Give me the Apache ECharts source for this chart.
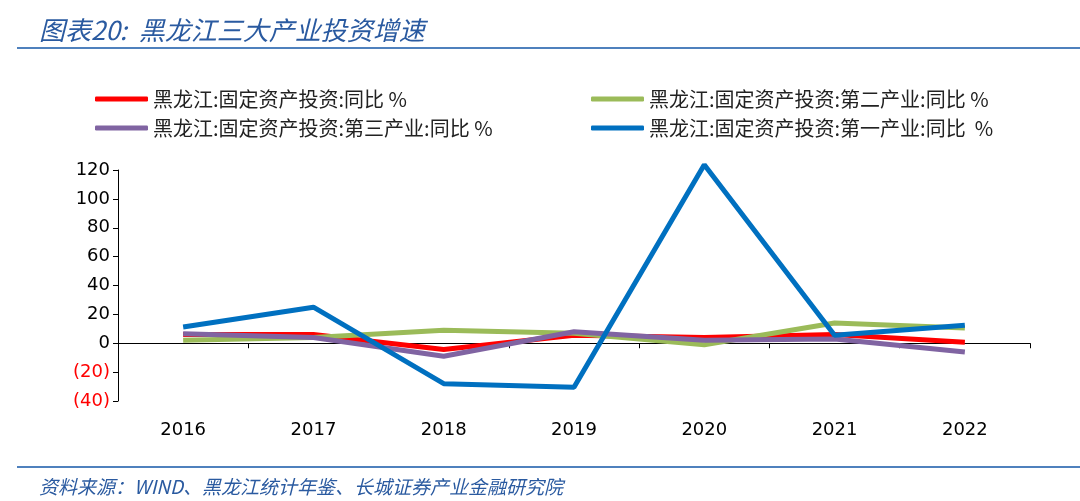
<!DOCTYPE html>
<html>
<head>
<meta charset="utf-8">
<script src="https://cdn.jsdelivr.net/npm/echarts@6/dist/echarts.min.js"></script>
<style>
  html, body { margin: 0; padding: 0; background: #fff; }
  #main { width: 1080px; height: 501px; }
</style>
</head>
<body>
<div id="main"></div>
<script>
// 年份
var years = ['2016', '2017', '2018', '2019', '2020', '2021', '2022'];
// 固定资产投资:同比 %
var totalInv = [6, 6, -4.3, 5.5, 4, 6, 0.7];
// 第二产业:同比 %
var secondInv = [2, 4, 9, 7, -1, 14, 10.6];
// 第三产业:同比 %
var thirdInv = [6.5, 4, -9, 8, 2, 3, -6];
// 第一产业:同比 %
var firstInv = [11.3, 25, -28, -30.5, 123.6, 5.5, 12.5];
var yTicks = [-40, -20, 0, 20, 40, 60, 80, 100, 120];

var names = [
  '黑龙江:固定资产投资:同比 %',
  '黑龙江:固定资产投资:第二产业:同比 %',
  '黑龙江:固定资产投资:第三产业:同比 %',
  '黑龙江:固定资产投资:第一产业:同比  %'
];

var dom = document.getElementById('main');
var myChart = echarts.init(dom);

var numFont = 'Tahoma, "DejaVu Sans", sans-serif';
var cnFont = '"Noto Sans CJK SC", sans-serif';

function mkLine(name, data, color) {
  return {
    name: name,
    type: 'line',
    data: data,
    symbol: 'none',
    clip: false,
    lineStyle: { color: color, width: 5 },
    itemStyle: { color: color },
    z: 3
  };
}

var legendCommon = {
  orient: 'vertical',
  icon: 'roundRect',
  itemWidth: 53,
  itemHeight: 5,
  itemGap: 9,
  textStyle: { fontFamily: cnFont, fontSize: 20, color: '#222' },
  selectedMode: false
};

var option = {
  backgroundColor: '#fff',
  animation: false,
  title: [
    {
      text: '图表20:  黑龙江三大产业投资增速',
      left: 34, top: 12,
      textStyle: { fontFamily: cnFont, fontStyle: 'italic', fontWeight: 'normal', fontSize: 26, color: '#2a5aa0' }
    },
    {
      text: '资料来源：WIND、黑龙江统计年鉴、长城证券产业金融研究院',
      left: 34, top: 472,
      textStyle: { fontFamily: cnFont, fontStyle: 'italic', fontWeight: 'normal', fontSize: 19, color: '#2a5aa0' }
    }
  ],
  graphic: [
    { type: 'line', shape: { x1: 17, y1: 48, x2: 1080, y2: 48 }, style: { stroke: '#4f81bd', lineWidth: 2 } },
    { type: 'line', shape: { x1: 17, y1: 467, x2: 1080, y2: 467 }, style: { stroke: '#4f81bd', lineWidth: 2 } }
  ],
  legend: [
    Object.assign({ left: 90, top: 84, data: [names[0], names[2]] }, legendCommon),
    Object.assign({ left: 586, top: 84, data: [names[1], names[3]] }, legendCommon)
  ],
  grid: { left: 118, right: 50, top: 170, bottom: 100 },
  xAxis: [
    {
      type: 'category',
      data: years,
      boundaryGap: true,
      axisLine: { onZero: true, lineStyle: { color: '#000', width: 1 } },
      axisTick: { show: true, inside: false, length: 5, lineStyle: { color: '#000' } },
      axisLabel: { show: false }
    },
    {
      type: 'category',
      data: years,
      position: 'bottom',
      boundaryGap: true,
      axisLine: { show: false, onZero: false },
      axisTick: { show: false },
      axisLabel: { margin: 20, fontFamily: numFont, fontSize: 18, color: '#000' }
    }
  ],
  yAxis: {
    type: 'value',
    min: yTicks[0],
    max: yTicks[yTicks.length - 1],
    interval: 20,
    splitLine: { show: false },
    axisLine: { show: true, lineStyle: { color: '#000', width: 1 } },
    axisTick: { show: true, length: 5, lineStyle: { color: '#000' } },
    axisLabel: {
      margin: 8,
      fontFamily: numFont,
      fontSize: 18,
      color: '#000',
      formatter: function (v) {
        if (v < 0) return '{neg|(' + Math.abs(v) + ')}';
        return String(v);
      },
      rich: { neg: { color: '#ff0000', fontFamily: numFont, fontSize: 18 } }
    }
  },
  series: [
    mkLine(names[0], totalInv, '#ff0000'),
    mkLine(names[1], secondInv, '#9bbb59'),
    mkLine(names[2], thirdInv, '#8064a2'),
    mkLine(names[3], firstInv, '#0070c0')
  ]
};

if (option && typeof option === 'object') {
  myChart.setOption(option, true);
}
</script>
</body>
</html>
